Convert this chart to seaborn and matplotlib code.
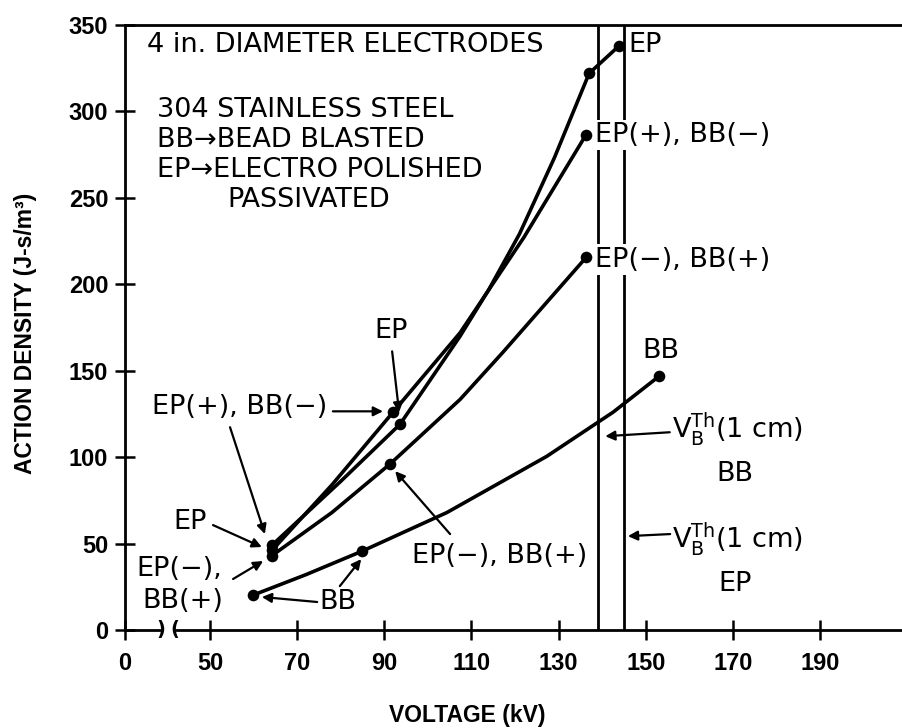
import matplotlib
matplotlib.use('Agg')
import matplotlib.pyplot as plt
import seaborn as sns
import pandas as pd

# Curves: voltage (kV) vs action density (J-s/m^3)
ep_kv = [64.2, 80, 93.6, 107.4, 114, 121, 129, 137.0, 143.9]
ep_ad = [49, 86, 119, 170, 197, 229, 273, 322, 338]
ep_pts_kv = [64.2, 93.6, 137.0, 143.9]
ep_pts_ad = [49, 119, 322, 338]

epp_kv = [64.2, 78, 92.0, 107.4, 122, 136.3]   # EP(+), BB(-)
epp_ad = [46, 84, 126, 172, 227, 286.5]
epp_pts_kv = [64.2, 92.0, 136.3]
epp_pts_ad = [46, 126, 286.5]

epm_kv = [64.2, 78, 91.3, 98.2, 107.4, 117.2, 136.3]   # EP(-), BB(+)
epm_ad = [43, 68, 96, 112, 133.4, 160.6, 215.5]
epm_pts_kv = [64.2, 91.3, 136.3]
epm_pts_ad = [43, 96, 215.5]

bb_kv = [59.9, 72, 84.9, 104.4, 127.3, 142.5, 153.0]
bb_ad = [20.2, 32, 45.6, 68, 100.5, 126, 146.7]
bb_pts_kv = [59.9, 84.9, 153.0]
bb_pts_ad = [20.2, 45.6, 146.7]

# breakdown thresholds V_B^Th (1 cm)
vth_bb = 139.1
vth_ep = 145.0

x_ticks = [50, 70, 90, 110, 130, 150, 170, 190]
y_ticks = [0, 50, 100, 150, 200, 250, 300, 350]
X_ZERO = 30.5   # where the broken axis puts "0"
X_MAX = 208.8

sns.set_theme(style='white')
plt.rcParams['font.family'] = ['DejaVu Sans']
plt.rcParams['text.color'] = 'black'
plt.rcParams['axes.labelcolor'] = 'black'
plt.rcParams['xtick.color'] = 'black'
plt.rcParams['ytick.color'] = 'black'
TICK_FONT = ['Liberation Sans Narrow', 'Liberation Sans', 'DejaVu Sans']

fig = plt.figure(figsize=(9.02, 7.28), dpi=100, facecolor='white')
ax = fig.add_axes([125 / 902, 1 - 630 / 728, 777 / 902, 605 / 728])
ax.set_facecolor('white')

curves = pd.concat([
    pd.DataFrame({'kv': ep_kv, 'ad': ep_ad, 'series': 'EP'}),
    pd.DataFrame({'kv': epp_kv, 'ad': epp_ad, 'series': 'EP+'}),
    pd.DataFrame({'kv': epm_kv, 'ad': epm_ad, 'series': 'EP-'}),
    pd.DataFrame({'kv': bb_kv, 'ad': bb_ad, 'series': 'BB'}),
])
points = pd.concat([
    pd.DataFrame({'kv': ep_pts_kv, 'ad': ep_pts_ad}),
    pd.DataFrame({'kv': epp_pts_kv, 'ad': epp_pts_ad}),
    pd.DataFrame({'kv': epm_pts_kv, 'ad': epm_pts_ad}),
    pd.DataFrame({'kv': bb_pts_kv, 'ad': bb_pts_ad}),
])

for name, grp in curves.groupby('series'):
    sns.lineplot(data=grp, x='kv', y='ad', sort=False, estimator=None,
                 color='black', linewidth=2.6, ax=ax, zorder=4)
sns.scatterplot(data=points, x='kv', y='ad', color='black', s=70,
                edgecolor='black', linewidth=0, ax=ax, zorder=5)

ax.axvline(vth_bb, color='black', lw=2, zorder=1)
ax.axvline(vth_ep, color='black', lw=2, zorder=1)

ax.set_xlim(X_ZERO, X_MAX)
ax.set_ylim(0, 350)
ax.set_xticks([X_ZERO] + x_ticks)
ax.set_xticklabels(['0'] + [str(v) for v in x_ticks])
ax.set_yticks(y_ticks)
ax.tick_params(direction='inout', length=14, width=1.8, color='black',
               labelsize=17, labelcolor='black', bottom=True, left=True)
ax.tick_params(axis='x', pad=9)
ax.tick_params(axis='y', pad=5)
for lab in ax.get_xticklabels() + ax.get_yticklabels():
    lab.set_family(TICK_FONT)
    lab.set_fontweight('bold')

for side in ['right', 'bottom']:
    ax.spines[side].set_visible(False)
for side in ['left', 'top']:
    ax.spines[side].set_color('black')
    ax.spines[side].set_linewidth(2)

# broken x axis
ax.plot([X_ZERO, 38.6], [0, 0], color='black', lw=2, clip_on=False, zorder=6)
ax.plot([42.1, X_MAX], [0, 0], color='black', lw=2, clip_on=False, zorder=6)
ax.text(38.75, 0, ')', ha='center', va='center', fontsize=14, fontweight='bold')
ax.text(42.0, 0, '(', ha='center', va='center', fontsize=14, fontweight='bold')

ax.set_xlabel('VOLTAGE (kV)', family=TICK_FONT, fontweight='bold', fontsize=16.5)
ax.set_ylabel('ACTION DENSITY (J-s/m³)', family=TICK_FONT, fontweight='bold', fontsize=16.5)
ax.xaxis.set_label_coords(0.44, -0.122)
ax.yaxis.set_label_coords(-0.113, 0.49)

FS = 19.5
white = dict(facecolor='white', edgecolor='none', pad=1.5)

ax.text(35.5, 338.5, '4 in. DIAMETER ELECTRODES', fontsize=FS, va='center')
ax.text(37.8, 301, '304 STAINLESS STEEL', fontsize=FS, va='center')
ax.text(37.8, 283.6, 'BB→BEAD BLASTED', fontsize=FS, va='center')
ax.text(37.8, 266.3, 'EP→ELECTRO POLISHED', fontsize=FS, va='center')
ax.text(53.9, 249, 'PASSIVATED', fontsize=FS, va='center')

ax.text(145.9, 338.5, 'EP', fontsize=FS, va='center', bbox=white, zorder=3)
ax.text(138.4, 286.5, 'EP(+), BB(−)', fontsize=FS, va='center', bbox=white, zorder=3)
ax.text(138.4, 214.3, 'EP(−), BB(+)', fontsize=FS, va='center', bbox=white, zorder=3)
ax.text(153.5, 161.2, 'BB', fontsize=FS, va='center', ha='center')

vlab = r'$\mathregular{V_B^{Th}}$(1 cm)'
ax.text(156.0, 116, vlab, fontsize=FS, va='center')
ax.text(170.5, 90.1, 'BB', fontsize=FS, va='center', ha='center')
ax.text(156.0, 52.6, vlab, fontsize=FS, va='center')
ax.text(170.5, 26.6, 'EP', fontsize=FS, va='center', ha='center')

arrow = dict(arrowstyle='-|>', color='black', lw=1.6, mutation_scale=14,
             shrinkA=0, shrinkB=0)
ax.annotate('', xy=(140.7, 112.1), xytext=(155.5, 114.4), arrowprops=arrow)
ax.annotate('', xy=(145.9, 54.3), xytext=(155.6, 55.5), arrowprops=arrow)

ax.text(36.7, 128.8, 'EP(+), BB(−)', fontsize=FS, va='center')
ax.annotate('', xy=(89.7, 126.5), xytext=(78.2, 126.5), arrowprops=arrow)
ax.annotate('', xy=(62.6, 55.5), xytext=(54.6, 117.3), arrowprops=arrow)

ax.text(45.4, 62.4, 'EP', fontsize=FS, va='center', ha='center')
ax.annotate('', xy=(61.9, 48), xytext=(50.7, 60.7), arrowprops=arrow)

ax.text(33.2, 35.2, 'EP(−),', fontsize=FS, va='center')
ax.text(34.6, 16.8, 'BB(+)', fontsize=FS, va='center')
ax.annotate('', xy=(62.2, 39.9), xytext=(55.3, 29.5), arrowprops=arrow)

ax.text(75.0, 16.2, 'BB', fontsize=FS, va='center')
ax.annotate('', xy=(61.9, 19.1), xytext=(74.6, 16.2), arrowprops=arrow)
ax.annotate('', xy=(84.7, 41), xytext=(79.8, 25.4), arrowprops=arrow)

ax.text(91.5, 172.7, 'EP', fontsize=FS, va='center', ha='center')
ax.annotate('', xy=(93.4, 126), xytext=(91.8, 161.2), arrowprops=arrow)

ax.text(96.4, 42.7, 'EP(−), BB(+)', fontsize=FS, va='center')
ax.annotate('', xy=(92.5, 91.9), xytext=(105.1, 55.5), arrowprops=arrow)

fig.savefig('out.png', dpi=100, facecolor='white')
